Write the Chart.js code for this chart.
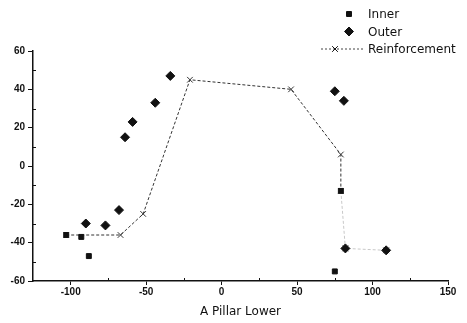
<!DOCTYPE html>
<html>
<head>
<meta charset="utf-8">
<script src="https://cdn.jsdelivr.net/npm/chart.js@4"></script>
<style>
  html, body { margin: 0; padding: 0; background: #fff; }
  #wrap { width: 467px; height: 323px; }
</style>
</head>
<body>
<div id="wrap"><canvas id="chart" width="467" height="323"></canvas></div>
<script>
// values
var innerX = [-103, -93, -88, 79, 75];
var innerY = [-36, -37, -47, -13, -55];
var outerX = [-90, -77, -68, -64, -59, -44, -34, 75, 81, 82, 109];
var outerY = [-30, -31, -23, 15, 23, 33, 47, 39, 34, -43, -44];
var reinfX = [-103, -67, -52, -21, 46, 79, 79, 82, 109];
var reinfY = [-36, -36, -25, 45, 40, 6, -13, -43, -44];
var xTicks = [-100, -50, 0, 50, 100, 150];
var yTicks = [-60, -40, -20, 0, 20, 40, 60];
var xMinor = [-75, -25, 25, 75, 125];
var yMinor = [-50, -30, -10, 10, 30, 50];

function pts(xs, ys) {
    return xs.map(function (x, i) { return {x: x, y: ys[i]}; });
}

var font = {family: 'Liberation Sans, Arial, sans-serif', size: 10, weight: 'bold'};

// small inward ticks between the labelled ones
var minorTicks = {
    id: 'minorTicks',
    afterDraw: function (chart) {
        var c = chart.ctx, xs = chart.scales.x, ys = chart.scales.y, a = chart.chartArea;
        c.save();
        c.strokeStyle = '#111';
        c.lineWidth = 1;
        c.beginPath();
        xMinor.forEach(function (v) {
            var p = Math.round(xs.getPixelForValue(v)) + 0.5;
            c.moveTo(p, a.bottom); c.lineTo(p, a.bottom - 3);
        });
        yMinor.forEach(function (v) {
            var p = Math.round(ys.getPixelForValue(v)) + 0.5;
            c.moveTo(a.left, p); c.lineTo(a.left + 3, p);
        });
        c.stroke();
        c.restore();
    }
};

// legend in the top right corner, like the original
var cornerLegend = {
    id: 'cornerLegend',
    afterDraw: function (chart) {
        var c = chart.ctx;
        var items = chart.data.datasets;
        c.save();
        c.font = '12px DejaVu Sans, sans-serif';
        c.textBaseline = 'middle';
        items.forEach(function (ds, i) {
            var y = 14 + i * 17.5;
            var mx = 349;
            if (ds.showLine) {
                c.strokeStyle = '#444';
                c.lineWidth = 1;
                c.setLineDash([2, 2]);
                c.beginPath();
                c.moveTo(321, y); c.lineTo(365, y);
                c.stroke();
                c.setLineDash([]);
                mx = 335;
            }
            c.fillStyle = '#111';
            c.strokeStyle = '#111';
            Chart.helpers.drawPoint(c, {
                pointStyle: ds.pointStyle, radius: ds.pointRadius, rotation: 0, borderWidth: 1
            }, mx, y);
            c.fillStyle = '#111';
            c.fillText(ds.label, 368, y + 1);
        });
        c.restore();
    }
};

var ctx = document.getElementById('chart');
var chart = new Chart(ctx, {
    type: 'scatter',
    data: {
        datasets: [{
            label: 'Inner',
            data: pts(innerX, innerY),
            pointStyle: 'rect',
            pointRadius: 3.5,
            backgroundColor: '#111',
            borderColor: '#111',
            showLine: false
        }, {
            label: 'Outer',
            data: pts(outerX, outerY),
            pointStyle: 'rectRot',
            pointRadius: 4.5,
            backgroundColor: '#111',
            borderColor: '#111',
            showLine: false
        }, {
            label: 'Reinforcement',
            data: pts(reinfX, reinfY),
            pointStyle: 'crossRot',
            pointRadius: 4,
            backgroundColor: '#222',
            borderColor: '#333',
            borderWidth: 1,
            borderDash: [3, 2],
            showLine: true,
            order: 5,
            segment: {
                // the last stretch is very faint in the scan
                borderColor: function (s) { return s.p0DataIndex >= 6 ? '#c8c8c8' : '#333'; }
            }
        }]
    },
    options: {
        responsive: false,
        animation: false,
        layout: {padding: {top: 51, right: 19, left: 0, bottom: 0}},
        plugins: {
            legend: {display: false},
            tooltip: {enabled: false}
        },
        scales: {
            x: {
                type: 'linear',
                min: -125,
                max: 150,
                afterBuildTicks: function (s) { s.ticks = xTicks.map(function (v) { return {value: v}; }); },
                afterFit: function (s) { s.height = 42; },
                grid: {drawOnChartArea: false, drawTicks: true, tickLength: 4, color: '#111'},
                border: {display: true, color: '#111', width: 1.5},
                ticks: {color: '#111', font: font, padding: 1, maxRotation: 0},
                title: {
                    display: true,
                    text: 'A Pillar Lower',
                    color: '#111',
                    font: {family: 'DejaVu Sans, sans-serif', size: 12},
                    padding: {top: 4}
                }
            },
            y: {
                min: -60,
                max: 60,
                afterBuildTicks: function (s) { s.ticks = yTicks.map(function (v) { return {value: v}; }); },
                afterFit: function (s) { s.width = 33; },
                grid: {drawOnChartArea: false, drawTicks: true, tickLength: 5, color: '#111'},
                border: {display: true, color: '#111', width: 1.5},
                ticks: {color: '#111', font: font, padding: 3}
            }
        }
    },
    plugins: [minorTicks, cornerLegend]
});
</script>
</body>
</html>
